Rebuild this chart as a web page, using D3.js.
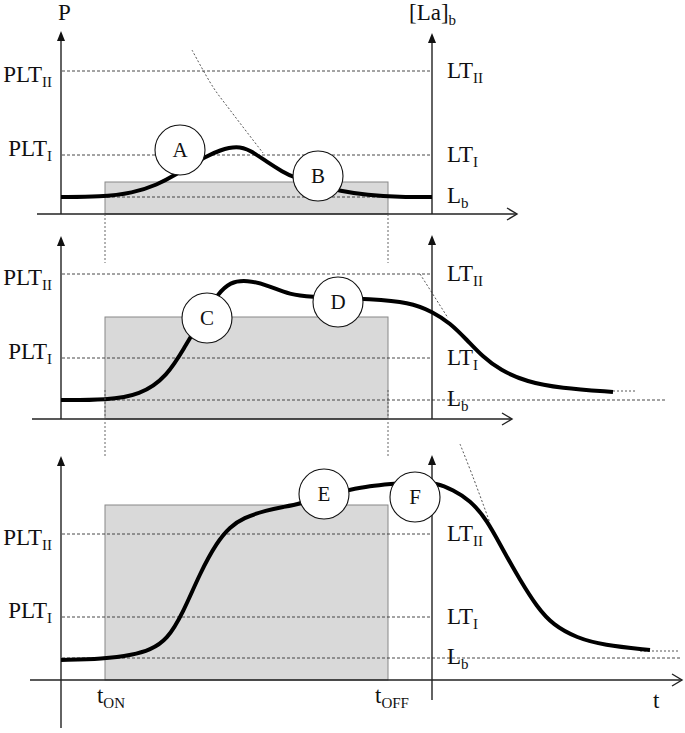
<!DOCTYPE html>
<html>
<head>
<meta charset="utf-8">
<script src="https://cdn.jsdelivr.net/npm/d3@7/dist/d3.min.js"></script>
<style>
body{margin:0;background:#fff}
text{font-family:"Liberation Serif","DejaVu Serif",serif;fill:#111}
</style>
</head>
<body>
<svg id="chart" width="685" height="733"></svg>
<script>
// time units: 0 = P axis, tOn / tOff = work bout, tRight = [La]b axis
const tOn = 44, tOff = 327, tRight = 371

// heights above the time axis: [Lb, threshold I, threshold II]
const levels = [[17,59,143],[19,61,145],[22,63,146]]
const workHeights = [32,102,175]
const lbEnds = [371,604,619]

const curve1 = [[0,17],[39,17],[72,21],[96,29],[116,40],[130,49],[144,57],[159,64],[176,68],[189,64],[206,52],[222,42],[232,37],[257,29],[279,23],[306,19],[339,17],[371,17]]
const curve2 = [[0,19],[46,19],[79,24],[106,42],[126,76],[131,84],[144,106],[157,125],[169,137],[186,139],[206,134],[229,124],[252,122],[277,121],[306,120],[349,117],[372,107],[389,96],[406,79],[422,62],[439,49],[466,37],[499,31],[552,27]]
const curve3 = [[0,20],[42,21],[72,25],[89,30],[106,40],[122,67],[139,107],[156,138],[169,153],[182,162],[206,170],[222,173],[239,176],[263,185],[288,190],[309,194],[329,196],[354,198],[376,197],[392,190],[409,180],[426,160],[442,130],[459,100],[476,73],[492,55],[516,42],[542,35],[589,30]]
const curves = [curve1,curve2,curve3]

// thin dotted guides
const guides = [
  [[131,164],[152,127],[169,104],[202,61]],
  [[359,145],[387,101]],
  [[399,236],[412,203],[429,157]]
]
const tails = [null,[[552,28],[576,28]],[[579,29],[619,29]]]

const markerLabels = ['A','B','C','D','E','F']
const markerPanel = [0,0,1,1,2,2]
const markerT = [119,257,146,277,263,354]
const markerH = [64,38,101,117,186,183]

const leftNames = ['I','II']
const rightNames = ['b','I','II']

// panel layout
const panels = [
  {axisY:214, leftTop:31, rightTop:33, leftBottom:214, rightBottom:214, xStart:37, xEnd:517},
  {axisY:419, leftTop:236, rightTop:235, leftBottom:419, rightBottom:419, xStart:32, xEnd:512},
  {axisY:680, leftTop:456, rightTop:455, leftBottom:728, rightBottom:700, xStart:30, xEnd:682}
]

const svg = d3.select('#chart')
const x = d3.scaleLinear().domain([0,620]).range([61,681])

function addLabel(g, px, py, main, sub, anchor){
  let t = g.append('text').attr('x',px).attr('y',py).attr('text-anchor',anchor||'start').style('font-size','23px')
  t.append('tspan').text(main)
  if(sub){
    t.append('tspan').attr('dy',5).style('font-size','15px').text(sub)
  }
  return t
}

panels.forEach(function(p,i){
  let y = d3.scaleLinear().domain([0,200]).range([p.axisY,p.axisY-200])
  let g = svg.append('g')
  let lv = levels[i]
  let line = d3.line().x(d=>x(d[0])).y(d=>y(d[1]))

  // work rectangle
  g.append('rect')
    .attr('x',x(tOn)).attr('y',y(workHeights[i]))
    .attr('width',x(tOff)-x(tOn)).attr('height',y(0)-y(workHeights[i]))
    .attr('fill','#d9d9d9').attr('stroke','#888').attr('stroke-width',1)

  // threshold lines
  lv.forEach(function(v,k){
    let end = k==0 ? lbEnds[i] : tRight
    g.append('line')
      .attr('x1',x(1)).attr('x2',x(end))
      .attr('y1',y(v)).attr('y2',y(v))
      .attr('stroke','#333').attr('stroke-width',0.9).attr('stroke-dasharray','3,2')
  })

  // guides
  g.append('path').attr('d',line.curve(d3.curveCatmullRom.alpha(0.5))(guides[i]))
    .attr('fill','none').attr('stroke','#444').attr('stroke-width',0.9).attr('stroke-dasharray','2,2')
  if(tails[i]){
    g.append('path').attr('d',line.curve(d3.curveLinear)(tails[i]))
      .attr('fill','none').attr('stroke','#444').attr('stroke-width',0.9).attr('stroke-dasharray','2,2')
  }

  // axes
  g.append('line').attr('x1',x(0)).attr('x2',x(0)).attr('y1',p.leftTop+8).attr('y2',p.leftBottom)
    .attr('stroke','#222').attr('stroke-width',1.4)
  g.append('line').attr('x1',x(tRight)).attr('x2',x(tRight)).attr('y1',p.rightTop+8).attr('y2',p.rightBottom)
    .attr('stroke','#222').attr('stroke-width',1.4)
  g.append('line').attr('x1',p.xStart).attr('x2',p.xEnd).attr('y1',y(0)).attr('y2',y(0))
    .attr('stroke','#222').attr('stroke-width',1.4)
  ;[[x(0),p.leftTop],[x(tRight),p.rightTop]].forEach(function(a){
    g.append('path').attr('d',`M${a[0]-4},${a[1]+10}L${a[0]},${a[1]}L${a[0]+4},${a[1]+10}Z`).attr('fill','#111')
  })
  g.append('path').attr('d',`M${p.xEnd-10},${y(0)-6}L${p.xEnd},${y(0)}L${p.xEnd-10},${y(0)+6}`)
    .attr('fill','none').attr('stroke','#222').attr('stroke-width',1.4)

  // response curve
  g.append('path').attr('d',line.curve(d3.curveBasis)(curves[i]))
    .attr('fill','none').attr('stroke','#000').attr('stroke-width',4)

  // markers
  markerLabels.forEach(function(m,k){
    if(markerPanel[k]!=i) return
    g.append('circle').attr('cx',x(markerT[k])).attr('cy',y(markerH[k])).attr('r',25)
      .attr('fill','#fff').attr('stroke','#111').attr('stroke-width',1.1)
    g.append('text').attr('x',x(markerT[k])).attr('y',y(markerH[k])+7)
      .attr('text-anchor','middle').style('font-size','21px').text(m)
  })

  // threshold labels
  addLabel(g,52,y(lv[1])+1,'PLT',leftNames[0],'end')
  addLabel(g,52,y(lv[2])+11,'PLT',leftNames[1],'end')
  addLabel(g,447,y(lv[0])+6,'L',rightNames[0])
  addLabel(g,447,y(lv[1])+7,'LT',rightNames[1])
  addLabel(g,447,y(lv[2])+7,'LT',rightNames[2])
})

// dotted connectors for tON / tOFF
const connectors = [[214,263],[390,458]]
;[tOn,tOff].forEach(function(t){
  connectors.forEach(function(c){
    svg.append('line').attr('x1',x(t)).attr('x2',x(t)).attr('y1',c[0]).attr('y2',c[1])
      .attr('stroke','#555').attr('stroke-width',0.9).attr('stroke-dasharray','2,2')
  })
})

// axis titles
addLabel(svg,58,20,'P')
addLabel(svg,409,20,'[La]','b')
addLabel(svg,x(tOn)+6,703,'t','ON','middle')
addLabel(svg,x(tOff)+4,703,'t','OFF','middle')
addLabel(svg,653,708,'t')
</script>
</body>
</html>
